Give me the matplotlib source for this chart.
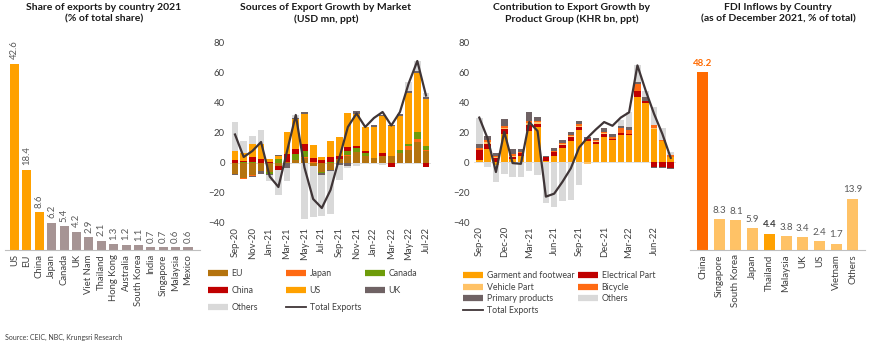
import numpy as np
import matplotlib.pyplot as plt
from matplotlib.lines import Line2D

plt.rcParams['font.family'] = ['Lato', 'DejaVu Sans']

# --- panel 1: share of exports 2021 ---
share_countries = ['US', 'EU', 'China', 'Japan', 'Canada', 'UK', 'Viet Nam', 'Thailand',
                   'Hong Kong', 'Australia', 'South Korea', 'India', 'Singapore', 'Malaysia', 'Mexico']
share_values = [42.6, 18.4, 8.6, 6.2, 5.4, 4.2, 2.9, 2.1, 1.3, 1.2, 1.1, 0.7, 0.7, 0.6, 0.6]

# --- panel 2: sources of export growth by market ---
months_mkt = ['Sep-20', 'Oct-20', 'Nov-20', 'Dec-20', 'Jan-21', 'Feb-21', 'Mar-21', 'Apr-21',
              'May-21', 'Jun-21', 'Jul-21', 'Aug-21', 'Sep-21', 'Oct-21', 'Nov-21', 'Dec-21',
              'Jan-22', 'Feb-22', 'Mar-22', 'Apr-22', 'May-22', 'Jun-22', 'Jul-22']
mkt_eu = [-7, -10, -8, -5, -6, -2, 1, 2, 3.5, -2, -6, -4.5, 3, 5, 7.5, 4.7, 3.3, 4.9, 5, 7, 8.7, 13.8, 7.8]
mkt_japan = [0, -0.7, -0.5, 0, 0, 0, 0, 0.3, 0.5, 0.5, 0, 0, 0, 0.3, 0, 0, 0, 0, 0, 0, 2.8, 2.2, 0.9]
mkt_canada = [0.3, 0.5, 1, 0, -1.5, 2.5, 0, 4, 4, 0, -0.5, 0.5, 0, 3, 2.5, 1.7, 0, 0, 0, 1.5, 1.2, 5, 2.8]
mkt_china = [2, 1, 3, 3, 0.5, -2.5, 5, 3, 5, 3, 2.3, 3.5, 2, 2.5, 1.5, 1.8, 0, 1.5, -2.4, 0, 0, 0, -2.9]
mkt_us = [6, 5, 9, 10, 2, 2, 14.5, 20, 19.5, 8.5, 2, 11, 12.5, 22.5, 21.5, 15.8, 20.5, 25, 20, 23, 33.7, 39, 31]
mkt_uk = [-1, 0.5, -1, -2.5, -0.5, 1, -3, 0.5, 1.5, 0, -1.5, -1, -1, -2, 2, 0, 1.7, 0.5, 0.5, 1.5, 1.4, 1.5, 1.6]
mkt_others = [19, 8, 5, 9, -4, -17, -9, 2.5, -37, -34, -27, -28.5, -10, -1, -2, 0, 0, -1, 0, 0, 6, 6.5, 2.7]
mkt_total = [19, 4, 8, 14, -9, -16, 8, 32, -3, -24, -30, -18, 3, 24, 33, 24, 30, 34, 25, 34, 53, 68, 45]

# --- panel 3: contribution by product group ---
months_prod = ['Sep-20', 'Oct-20', 'Nov-20', 'Dec-20', 'Jan-21', 'Feb-21', 'Mar-21', 'Apr-21',
               'May-21', 'Jun-21', 'Jul-21', 'Aug-21', 'Sep-21', 'Oct-21', 'Nov-21', 'Dec-21',
               'Jan-22', 'Feb-22', 'Mar-22', 'Apr-22', 'May-22', 'Jun-22', 'Jul-22', 'Aug-22']
prod_garment = [1.5, 9, -2, 19, 2.4, 4.5, 21, 23.5, 1, 4, 9.8, 14.5, 22, 14.2, 12.5, 16.9, 14.7, 18, 18, 43.5, 40, 22.5, 14, 3.5]
prod_electrical = [6.5, 3.5, 3, 3.5, 1.5, 1.5, 3.7, 2.3, 2.3, 2.9, 1.8, 2.5, 1.8, 1.2, 1.3, 2.2, 1.1, 1.6, 0.8, 4, 1.1, -3, -3, -3.8]
prod_vehicle = [0.5, 1, 0.5, 0.8, 0.5, 0.3, 2, 1, 0, 0, 0.4, 0.8, 0.4, -1, 0.4, 0.4, 0, 0.3, 0.3, 0.5, 0.3, 0.3, 0, 0]
prod_bicycle = [1, 1.5, 1, 1, 1, 0.5, 1.3, 1, 0, 0.5, 1, 0.5, 1.2, 0.3, 0.5, 0.7, 1.5, 2.8, 2.8, 4.5, 0, 2.5, 0.8, 1.2]
prod_primary = [3, 2.5, 2, 4.5, 3.3, 2, 6, 2.5, 1.2, 2, 1.7, 2, 2, 1.5, 1.7, 2.7, 1.4, 1.6, 1.6, 1.5, 2.2, -0.5, -0.8, -1]
prod_others = [17.5, -3, -11, -8, -9.5, -9.8, -6, -8.5, -27.5, -30, -26, -25.5, -15.5, 0, 0, 0, 0, 4, 10, 11, 4.5, 11.5, 8, 2.2]
prod_total = [30, 16, -6.5, 20.5, -0.5, -1, 27, 21, -23, -21, -13, -4, 10, 16.5, 22, 27, 24.5, 30, 33.5, 65, 48, 32.5, 19, 3]

# --- panel 4: FDI inflows ---
fdi_countries = ['China', 'Singapore', 'South Korea', 'Japan', 'Thailand', 'Malaysia', 'UK', 'US', 'Vietnam', 'Others']
fdi_values = [48.2, 8.3, 8.1, 5.9, 4.4, 3.8, 3.4, 2.4, 1.7, 13.9]

ORANGE = '#FFA100'
LIGHT_OR = '#FFC266'
RED_OR = '#FF6A13'
RED = '#C00000'
BROWN = '#B4730E'
GREEN = '#6E9C0A'
DARK = '#6F6264'
GREY = '#D9D9D9'
LINE = '#3F3537'
TXT = '#404040'

W, H = 870, 348
fig = plt.figure(figsize=(W / 100, H / 100), dpi=100)


def box(l, t, r, b):
    return [l / W, 1 - b / H, (r - l) / W, (b - t) / H]


def title(x, s):
    fig.text(x / W, 1 - 3 / H, s, ha='center', va='top', fontsize=7.5,
             fontweight='bold', linespacing=1.3, color='#1a1a1a')


def stacked(ax, series, width):
    x = np.arange(len(series[0][1]))
    pos = np.zeros(len(x))
    neg = np.zeros(len(x))
    handles = {}
    for name, vals, col in series:
        v = np.array(vals, float)
        bottom = np.where(v >= 0, pos, neg)
        ax.bar(x, v, width, bottom=bottom, color=col, linewidth=0)
        pos += np.clip(v, 0, None)
        neg += np.clip(v, None, 0)
        handles[name] = Line2D([], [], color=col, lw=4.5, solid_capstyle='butt')
    return x, handles


def style_growth(ax, labels, step):
    ax.set_ylim(-40, 80)
    ax.set_yticks(range(-40, 81, 20))
    ax.set_xticks(range(0, len(labels), step))
    ax.set_xticklabels(labels[::step], rotation=90, fontsize=6.8, color=TXT)
    ax.tick_params(axis='both', length=0, labelsize=6.8, labelcolor=TXT)
    ax.tick_params(axis='x', pad=3)
    for s in ax.spines.values():
        s.set_visible(False)
    ax.axhline(0, color=GREY, lw=0.6, zorder=0)


def legend(handles, names, x, y, spacing):
    fig.legend([handles[n] for n in names], names, loc='upper left',
               bbox_to_anchor=(x / W, 1 - y / H), frameon=False, fontsize=6.3,
               handlelength=2.3, handletextpad=0.4, labelspacing=spacing,
               borderpad=0, borderaxespad=0, labelcolor=TXT)


# panel 1
ax1 = fig.add_axes(box(5, 40, 200, 250))
cols1 = [ORANGE] * 3 + ['#A69494'] * (len(share_values) - 3)
ax1.bar(range(len(share_values)), share_values, 0.73, color=cols1)
for i, v in enumerate(share_values):
    ax1.text(i, v + 1, f'{v}', rotation=90, ha='center', va='bottom', fontsize=6.8, color='#595959')
ax1.set_ylim(0, 48)
ax1.set_xlim(-0.77, 14.97)
ax1.set_xticks(range(len(share_countries)))
ax1.set_xticklabels(share_countries, rotation=90, fontsize=6.8, color=TXT)
ax1.set_yticks([])
ax1.tick_params(length=0, pad=3)
for s in ['top', 'right', 'left']:
    ax1.spines[s].set_visible(False)
ax1.spines['bottom'].set_color('#BFBFBF')
title(104, 'Share of exports by country 2021\n(% of total share)')

# panel 2
ax2 = fig.add_axes(box(229.8, 43, 431.2, 223))
x2, h2 = stacked(ax2, [('EU', mkt_eu, BROWN), ('Japan', mkt_japan, RED_OR),
                       ('Canada', mkt_canada, GREEN), ('China', mkt_china, RED),
                       ('US', mkt_us, ORANGE), ('UK', mkt_uk, DARK),
                       ('Others', mkt_others, GREY)], 0.78)
ax2.plot(x2, mkt_total, color=LINE, lw=1.6)
h2['Total Exports'] = Line2D([], [], color=LINE, lw=1.3)
ax2.set_xlim(-0.6, len(x2) - 0.4)
style_growth(ax2, months_mkt, 2)
title(326, 'Sources of Export Growth by Market\n(USD mn, ppt)')
legend(h2, ['EU', 'China', 'Others'], 208, 269, 0.9)
legend(h2, ['Japan', 'US', 'Total Exports'], 286, 269, 0.9)
legend(h2, ['Canada', 'UK'], 365, 269, 0.9)

# panel 3
ax3 = fig.add_axes(box(474.3, 43, 675.7, 222))
x3, h3 = stacked(ax3, [('Garment and footwear', prod_garment, ORANGE),
                       ('Electrical Part', prod_electrical, RED),
                       ('Vehicle Part', prod_vehicle, LIGHT_OR),
                       ('Bicycle', prod_bicycle, RED_OR),
                       ('Primary products', prod_primary, DARK),
                       ('Others', prod_others, GREY)], 0.78)
ax3.plot(x3, prod_total, color=LINE, lw=1.6)
h3['Total Exports'] = Line2D([], [], color=LINE, lw=1.3)
ax3.set_xlim(-0.6, len(x3) - 0.4)
style_growth(ax3, months_prod, 3)
title(572, 'Contribution to Export Growth by\nProduct Group (KHR bn, ppt)')
legend(h3, ['Garment and footwear', 'Vehicle Part', 'Primary products', 'Total Exports'], 463, 271, 0.3)
legend(h3, ['Electrical Part', 'Bicycle', 'Others'], 578, 271, 0.3)

# panel 4
ax4 = fig.add_axes(box(690, 47, 865, 250))
cols4 = [LIGHT_OR] * len(fdi_values)
cols4[0] = '#FF6A00'
cols4[fdi_countries.index('Thailand')] = ORANGE
ax4.bar(range(len(fdi_values)), fdi_values, 0.66, color=cols4)
for i, v in enumerate(fdi_values):
    kw = dict(color='#595959', fontweight='normal')
    if i == 0:
        kw = dict(color='#FF6A00', fontweight='bold')
    elif fdi_countries[i] == 'Thailand':
        kw = dict(color=TXT, fontweight='bold')
    ax4.text(i, v + 1.2, f'{v}', ha='center', va='bottom', fontsize=7, **kw)
ax4.set_ylim(0, 55)
ax4.set_xlim(-0.75, 9.72)
ax4.set_xticks(range(len(fdi_countries)))
ax4.set_xticklabels(fdi_countries, rotation=90, fontsize=7, color=TXT)
ax4.set_yticks([])
ax4.tick_params(length=0, pad=3)
for s in ['top', 'right', 'left']:
    ax4.spines[s].set_visible(False)
ax4.spines['bottom'].set_color('#BFBFBF')
title(778, 'FDI Inflows by Country\n(as of December 2021, % of total)')

fig.text(5 / W, 1 - 337 / H, 'Source: CEIC, NBC, Krungsri Research', fontsize=5,
         color=TXT, va='center')

fig.savefig('out.png', dpi=100)
